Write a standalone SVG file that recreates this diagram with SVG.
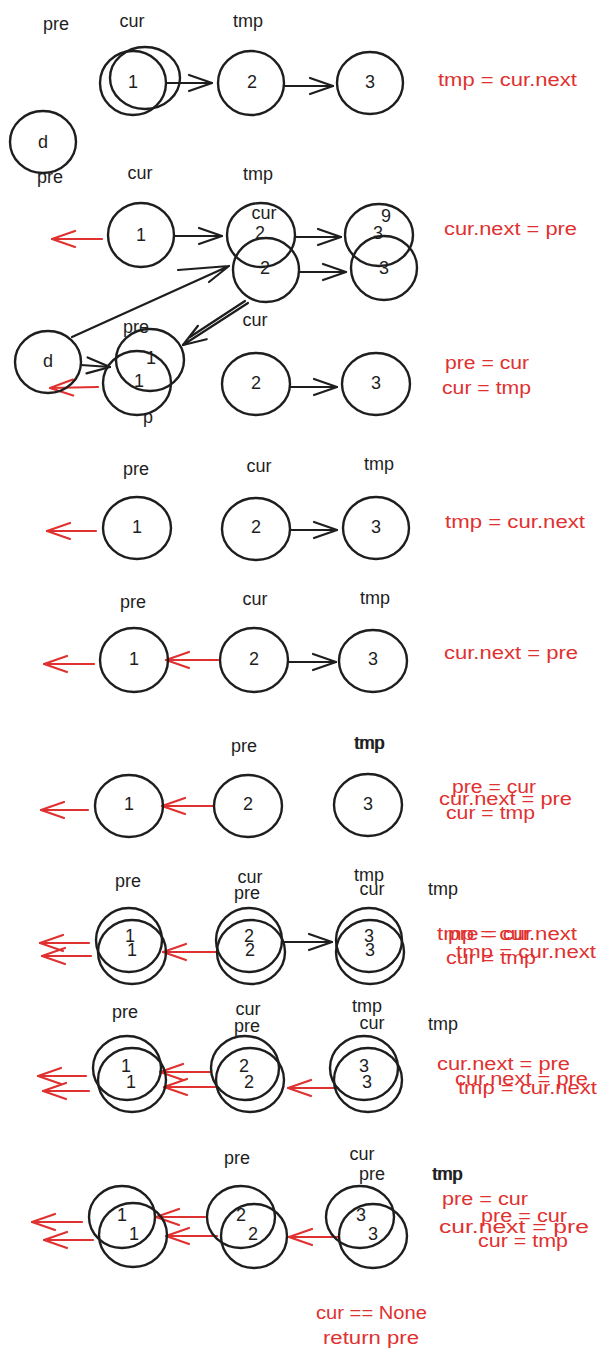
<svg xmlns="http://www.w3.org/2000/svg" width="607" height="1361" viewBox="0 0 607 1361">
<style>
.n{fill:none;stroke:#1e1e1e;stroke-width:2.4}
.t{font-family:"Liberation Sans",Arial,sans-serif;font-size:18px;fill:#1e1e1e;text-anchor:middle;dominant-baseline:central}
.r{font-family:"Liberation Sans",Arial,sans-serif;font-size:18px;fill:#e03131;dominant-baseline:central}
.k{fill:none;stroke:#1e1e1e;stroke-width:2.2;stroke-linecap:round;marker-end:url(#ab)}
.e{fill:none;stroke:#e03131;stroke-width:2.2;stroke-linecap:round;marker-end:url(#ar)}
.kp{fill:none;stroke:#1e1e1e;stroke-width:2.2;stroke-linecap:round;stroke-linejoin:round}
</style>
<defs>
<marker id="ab" markerUnits="userSpaceOnUse" markerWidth="30" markerHeight="20" viewBox="-26 -10 30 20" refX="0" refY="0" orient="auto">
<path d="M-23,-8 L0,0 L-23,8" fill="none" stroke="#1e1e1e" stroke-width="2.2" stroke-linecap="round" stroke-linejoin="round"/>
</marker>
<marker id="ar" markerUnits="userSpaceOnUse" markerWidth="30" markerHeight="20" viewBox="-26 -10 30 20" refX="0" refY="0" orient="auto">
<path d="M-23,-8 L0,0 L-23,8" fill="none" stroke="#e03131" stroke-width="2.2" stroke-linecap="round" stroke-linejoin="round"/>
</marker>
</defs>
<rect width="607" height="1361" fill="#ffffff"/>

<g id="connectors">
<line class="k" x1="167" y1="83" x2="212" y2="83"/>
<line class="k" x1="285" y1="86" x2="333" y2="86"/>
<line class="e" x1="102" y1="239" x2="52" y2="239"/>
<line class="k" x1="174" y1="236" x2="222" y2="236"/>
<line class="k" x1="295" y1="237" x2="341" y2="237"/>
<line class="k" x1="299" y1="272" x2="346" y2="272"/>
<path class="kp" d="M72,337 L229,266 M178,270 L229,266 L209,282"/>
<line class="k" x1="248" y1="303" x2="183" y2="345"/>
<line class="kp" x1="245" y1="301" x2="190" y2="337"/>
<line class="k" x1="81" y1="365" x2="110" y2="367"/>
<line class="e" x1="98" y1="387" x2="50" y2="388"/>
<line class="k" x1="290" y1="387" x2="337" y2="387"/>
<line class="e" x1="96" y1="531" x2="47" y2="531"/>
<line class="k" x1="290" y1="530" x2="337" y2="530"/>
<line class="e" x1="94" y1="664" x2="44" y2="664"/>
<line class="e" x1="218" y1="660" x2="166" y2="660"/>
<line class="k" x1="288" y1="662" x2="336" y2="662"/>
<line class="e" x1="88" y1="810" x2="41" y2="810"/>
<line class="e" x1="214" y1="806" x2="162" y2="806"/>
<line class="e" x1="89" y1="943" x2="40" y2="943"/>
<line class="e" x1="91" y1="956" x2="42" y2="956"/>
<line class="e" x1="216" y1="952" x2="163" y2="952"/>
<line class="k" x1="283" y1="942" x2="332" y2="942"/>
<line class="e" x1="86" y1="1076" x2="38" y2="1076"/>
<line class="e" x1="89" y1="1091" x2="43" y2="1091"/>
<line class="e" x1="211" y1="1072" x2="160" y2="1072"/>
<line class="e" x1="215" y1="1087" x2="164" y2="1087"/>
<line class="e" x1="338" y1="1088" x2="288" y2="1088"/>
<line class="e" x1="82" y1="1222" x2="32" y2="1222"/>
<line class="e" x1="93" y1="1240" x2="44" y2="1240"/>
<line class="e" x1="205" y1="1217" x2="156" y2="1217"/>
<line class="e" x1="217" y1="1236" x2="166" y2="1236"/>
<line class="e" x1="338" y1="1237" x2="289" y2="1237"/>
</g>

<g id="r1-labels">
<text class="t" x="56" y="24">pre</text>
<text class="t" x="132" y="21">cur</text>
<text class="t" x="248" y="21">tmp</text>
</g>
<g id="r1-n1"><ellipse class="n" cx="133" cy="83" rx="33" ry="32"/><ellipse class="n" cx="145" cy="78" rx="35" ry="31"/><text class="t" x="133" y="82">1</text></g>
<g id="r1-n2"><ellipse class="n" cx="251" cy="83" rx="33" ry="32"/><text class="t" x="252" y="82">2</text></g>
<g id="r1-n3"><ellipse class="n" cx="370" cy="83" rx="33" ry="31"/><text class="t" x="370" y="82">3</text></g>
<g id="r1-d"><ellipse class="n" cx="43" cy="142" rx="33" ry="31"/><text class="t" x="43" y="142">d</text></g>
<text id="r1-stmt" class="r" x="438" y="80" textLength="139" lengthAdjust="spacingAndGlyphs">tmp = cur.next</text>

<g id="r2-labels">
<text class="t" x="50" y="177">pre</text>
<text class="t" x="140" y="173">cur</text>
<text class="t" x="258" y="174">tmp</text>
<text class="t" x="255" y="320">cur</text>
</g>
<g id="r2-n1"><ellipse class="n" cx="141" cy="235" rx="33" ry="32"/><text class="t" x="141" y="235">1</text></g>
<g id="r2-n2a"><ellipse class="n" cx="261" cy="235" rx="34" ry="32"/><text class="t" x="264" y="213">cur</text><text class="t" x="260" y="233">2</text></g>
<g id="r2-n2b"><ellipse class="n" cx="266" cy="270" rx="33" ry="32"/><text class="t" x="265" y="268">2</text></g>
<g id="r2-n3a"><ellipse class="n" cx="379" cy="235" rx="34" ry="31"/><text class="t" x="378" y="233">3</text><text class="t" x="386" y="216">9</text></g>
<g id="r2-n3b"><ellipse class="n" cx="384" cy="268" rx="33" ry="32"/><text class="t" x="384" y="268">3</text></g>
<text id="r2-stmt" class="r" x="444" y="229" textLength="133" lengthAdjust="spacingAndGlyphs">cur.next = pre</text>
<g id="r2b-d"><ellipse class="n" cx="48" cy="362" rx="33" ry="31"/><text class="t" x="48" y="361">d</text></g>
<g id="r2b-n1a"><ellipse class="n" cx="150" cy="360" rx="34" ry="31"/><text class="t" x="136" y="327">pre</text><text class="t" x="151" y="358">1</text></g>
<g id="r2b-n1b"><ellipse class="n" cx="137" cy="383" rx="34" ry="32"/><text class="t" x="139" y="381">1</text><text class="t" x="148" y="417">p</text></g>
<g id="r2b-n2"><ellipse class="n" cx="256" cy="384" rx="34" ry="31"/><text class="t" x="256" y="383">2</text></g>
<g id="r2b-n3"><ellipse class="n" cx="376" cy="384" rx="34" ry="31"/><text class="t" x="376" y="383">3</text></g>
<g id="r2b-stmt">
<text class="r" x="445" y="363" textLength="84" lengthAdjust="spacingAndGlyphs">pre = cur</text>
<text class="r" x="442" y="388" textLength="89" lengthAdjust="spacingAndGlyphs">cur = tmp</text>
</g>

<g id="r3-labels">
<text class="t" x="136" y="469">pre</text>
<text class="t" x="259" y="466">cur</text>
<text class="t" x="379" y="464">tmp</text>
</g>
<g id="r3-n1"><ellipse class="n" cx="137" cy="528" rx="34" ry="31"/><text class="t" x="137" y="527">1</text></g>
<g id="r3-n2"><ellipse class="n" cx="256" cy="529" rx="34" ry="31"/><text class="t" x="256" y="527">2</text></g>
<g id="r3-n3"><ellipse class="n" cx="376" cy="528" rx="33" ry="31"/><text class="t" x="376" y="527">3</text></g>
<text id="r3-stmt" class="r" x="445" y="522" textLength="140" lengthAdjust="spacingAndGlyphs">tmp = cur.next</text>

<g id="r4-labels">
<text class="t" x="133" y="602">pre</text>
<text class="t" x="255" y="599">cur</text>
<text class="t" x="375" y="598">tmp</text>
</g>
<g id="r4-n1"><ellipse class="n" cx="134" cy="660" rx="34" ry="32"/><text class="t" x="134" y="659">1</text></g>
<g id="r4-n2"><ellipse class="n" cx="254" cy="660" rx="34" ry="32"/><text class="t" x="254" y="659">2</text></g>
<g id="r4-n3"><ellipse class="n" cx="373" cy="661" rx="34" ry="31"/><text class="t" x="373" y="659">3</text></g>
<text id="r4-stmt" class="r" x="444" y="653" textLength="134" lengthAdjust="spacingAndGlyphs">cur.next = pre</text>

<g id="r5-labels">
<text class="t" x="244" y="746">pre</text>
<text class="t" x="369" y="743">tmp</text>
<text class="t" x="370" y="743">tmp</text>
</g>
<g id="r5-n1"><ellipse class="n" cx="129" cy="806" rx="34" ry="31"/><text class="t" x="129" y="804">1</text></g>
<g id="r5-n2"><ellipse class="n" cx="248" cy="806" rx="34" ry="31"/><text class="t" x="248" y="804">2</text></g>
<g id="r5-n3"><ellipse class="n" cx="368" cy="805" rx="34" ry="31"/><text class="t" x="368" y="804">3</text></g>
<g id="r5-stmt">
<text class="r" x="452" y="787" textLength="84" lengthAdjust="spacingAndGlyphs">pre = cur</text>
<text class="r" x="439" y="799" textLength="133" lengthAdjust="spacingAndGlyphs">cur.next = pre</text>
<text class="r" x="446" y="813" textLength="89" lengthAdjust="spacingAndGlyphs">cur = tmp</text>
</g>

<g id="r6-labels">
<text class="t" x="128" y="881">pre</text>
<text class="t" x="250" y="877">cur</text>
<text class="t" x="247" y="893">pre</text>
<text class="t" x="369" y="875">tmp</text>
<text class="t" x="372" y="889">cur</text>
<text class="t" x="443" y="889">tmp</text>
</g>
<g id="r6-n1"><ellipse class="n" cx="129" cy="940" rx="33" ry="32"/><ellipse class="n" cx="132" cy="952" rx="34" ry="32"/><text class="t" x="130" y="936">1</text><text class="t" x="132" y="950">1</text></g>
<g id="r6-n2"><ellipse class="n" cx="249" cy="940" rx="33" ry="32"/><ellipse class="n" cx="251" cy="952" rx="34" ry="32"/><text class="t" x="249" y="936">2</text><text class="t" x="250" y="950">2</text></g>
<g id="r6-n3"><ellipse class="n" cx="369" cy="940" rx="33" ry="32"/><ellipse class="n" cx="370" cy="952" rx="34" ry="32"/><text class="t" x="369" y="936">3</text><text class="t" x="370" y="950">3</text></g>
<g id="r6-stmt">
<text class="r" x="437" y="934" textLength="140" lengthAdjust="spacingAndGlyphs">tmp = cur.next</text>
<text class="r" x="448" y="934" textLength="84" lengthAdjust="spacingAndGlyphs">pre = cur</text>
<text class="r" x="456" y="952" textLength="140" lengthAdjust="spacingAndGlyphs">tmp = cur.next</text>
<text class="r" x="446" y="958" textLength="90" lengthAdjust="spacingAndGlyphs">cur = tmp</text>
</g>

<g id="r7-labels">
<text class="t" x="125" y="1012">pre</text>
<text class="t" x="248" y="1009">cur</text>
<text class="t" x="247" y="1026">pre</text>
<text class="t" x="367" y="1006">tmp</text>
<text class="t" x="372" y="1023">cur</text>
<text class="t" x="443" y="1024">tmp</text>
</g>
<g id="r7-n1"><ellipse class="n" cx="127" cy="1068" rx="34" ry="32"/><ellipse class="n" cx="132" cy="1080" rx="34" ry="32"/><text class="t" x="126" y="1066">1</text><text class="t" x="131" y="1082">1</text></g>
<g id="r7-n2"><ellipse class="n" cx="245" cy="1068" rx="34" ry="32"/><ellipse class="n" cx="250" cy="1080" rx="34" ry="32"/><text class="t" x="244" y="1066">2</text><text class="t" x="249" y="1082">2</text></g>
<g id="r7-n3"><ellipse class="n" cx="364" cy="1068" rx="34" ry="32"/><ellipse class="n" cx="368" cy="1080" rx="34" ry="32"/><text class="t" x="364" y="1066">3</text><text class="t" x="367" y="1082">3</text></g>
<g id="r7-stmt">
<text class="r" x="437" y="1064" textLength="133" lengthAdjust="spacingAndGlyphs">cur.next = pre</text>
<text class="r" x="455" y="1079" textLength="133" lengthAdjust="spacingAndGlyphs">cur.next = pre</text>
<text class="r" x="458" y="1088" textLength="139" lengthAdjust="spacingAndGlyphs">tmp = cur.next</text>
</g>

<g id="r8-labels">
<text class="t" x="237" y="1158">pre</text>
<text class="t" x="362" y="1154">cur</text>
<text class="t" x="372" y="1174">pre</text>
<text class="t" x="447" y="1174">tmp</text>
<text class="t" x="448" y="1174">tmp</text>
</g>
<g id="r8-n1"><ellipse class="n" cx="122" cy="1217" rx="33" ry="31"/><ellipse class="n" cx="133" cy="1235" rx="34" ry="32"/><text class="t" x="122" y="1215">1</text><text class="t" x="134" y="1234">1</text></g>
<g id="r8-n2"><ellipse class="n" cx="241" cy="1217" rx="34" ry="31"/><ellipse class="n" cx="254" cy="1236" rx="33" ry="32"/><text class="t" x="241" y="1215">2</text><text class="t" x="253" y="1234">2</text></g>
<g id="r8-n3"><ellipse class="n" cx="360" cy="1217" rx="34" ry="31"/><ellipse class="n" cx="373" cy="1236" rx="34" ry="32"/><text class="t" x="361" y="1215">3</text><text class="t" x="373" y="1234">3</text></g>
<g id="r8-stmt">
<text class="r" x="442" y="1199" textLength="86" lengthAdjust="spacingAndGlyphs">pre = cur</text>
<text class="r" x="481" y="1216" textLength="86" lengthAdjust="spacingAndGlyphs">pre = cur</text>
<text class="r" x="439" y="1227" textLength="150" lengthAdjust="spacingAndGlyphs">cur.next = pre</text>
<text class="r" x="478" y="1241" textLength="90" lengthAdjust="spacingAndGlyphs">cur = tmp</text>
</g>
<g id="result">
<text class="r" x="316" y="1313" textLength="111" lengthAdjust="spacingAndGlyphs">cur == None</text>
<text class="r" x="323" y="1338" textLength="96" lengthAdjust="spacingAndGlyphs">return pre</text>
</g>
</svg>
